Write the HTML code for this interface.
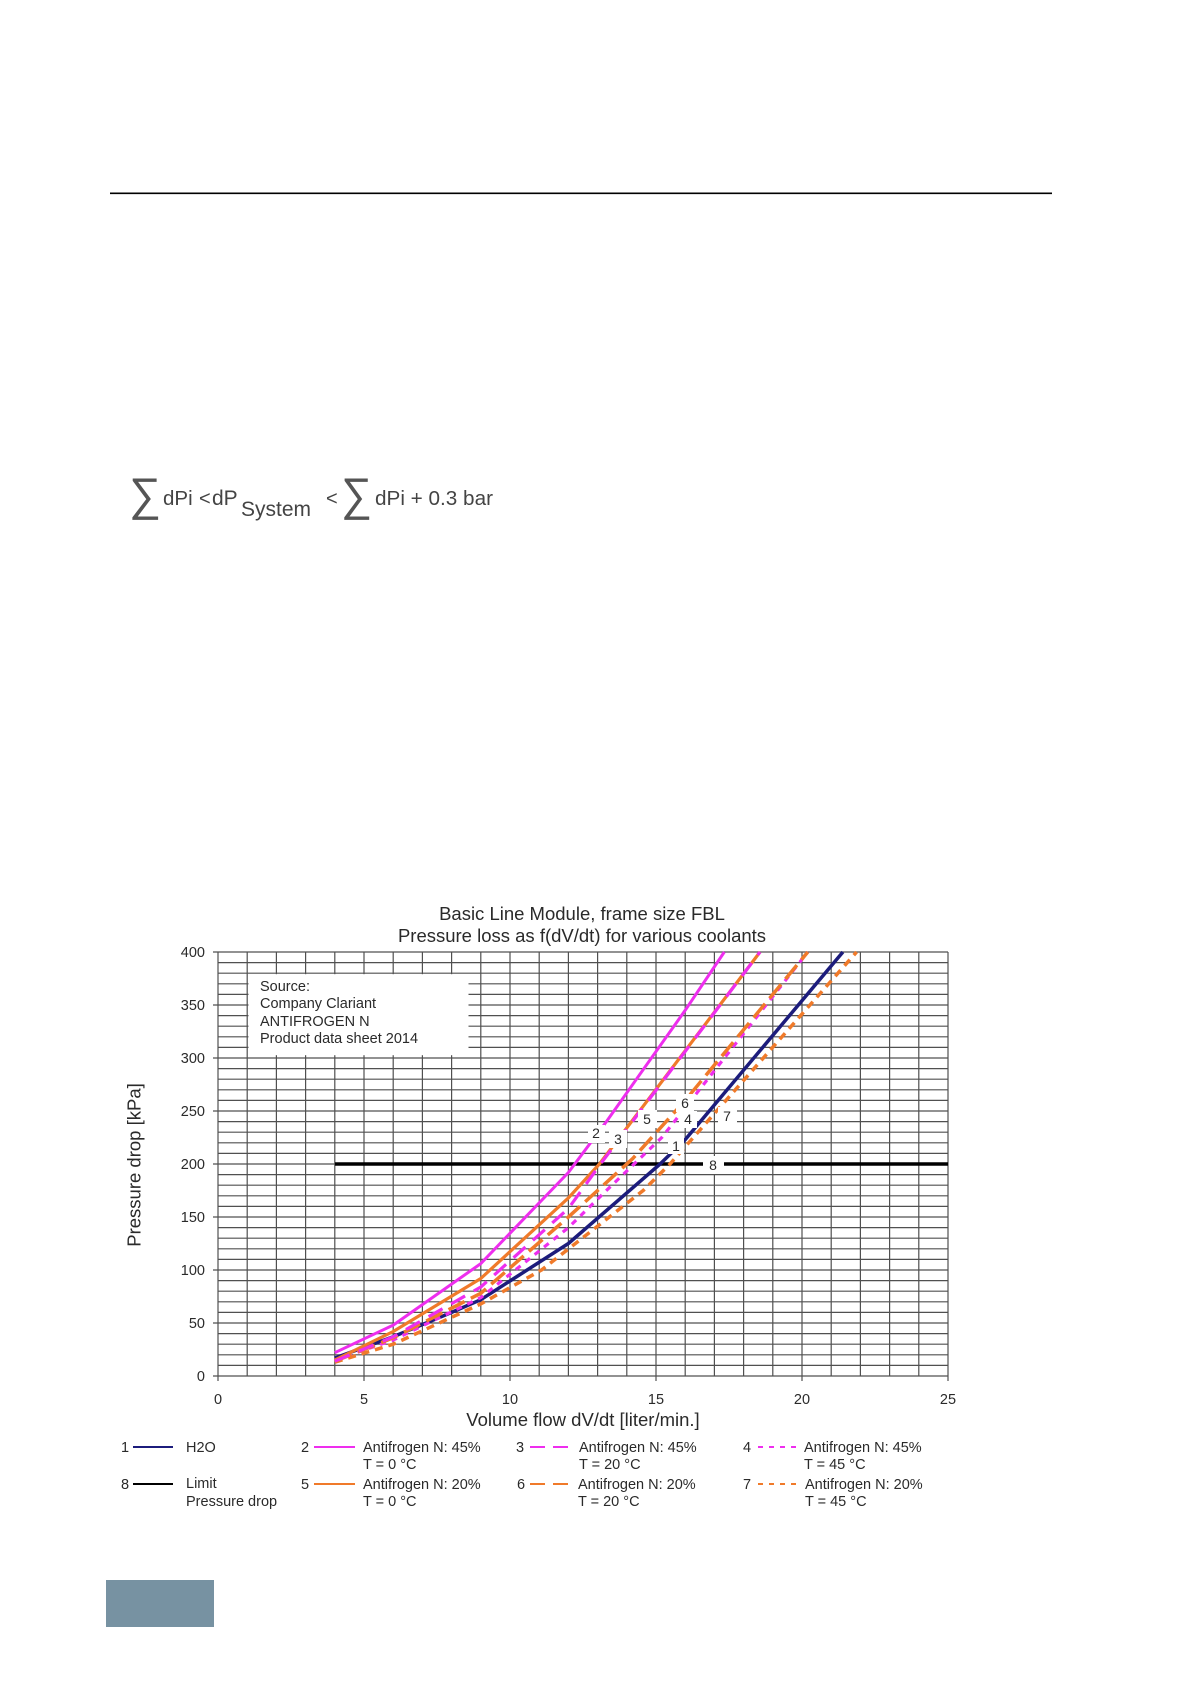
<!DOCTYPE html>
<html>
<head>
<meta charset="utf-8">
<style>
html,body{margin:0;padding:0;background:#fff;}
svg{display:block;}
text{font-family:"Liberation Sans",Arial,sans-serif;fill:#2a2a2a;}
</style>
</head>
<body>
<svg width="1190" height="1684" viewBox="0 0 1190 1684" xmlns="http://www.w3.org/2000/svg">
<rect x="0" y="0" width="1190" height="1684" fill="#fff"/>

<!-- header rule -->
<line x1="110" y1="193.3" x2="1052" y2="193.3" stroke="#000" stroke-width="1.6"/>

<!-- formula -->
<g>
<text x="129" y="510" font-size="46" textLength="32" lengthAdjust="spacingAndGlyphs" style="fill:#555">∑</text>
<text x="163" y="505" font-size="20.5" style="fill:#444">dPi</text>
<text x="199" y="505" font-size="20" style="fill:#444">&lt;</text>
<text x="212" y="505" font-size="21" style="fill:#444">dP</text>
<text x="241" y="516" font-size="21" textLength="70" lengthAdjust="spacingAndGlyphs" style="fill:#444">System</text>
<text x="326" y="505" font-size="20" style="fill:#444">&lt;</text>
<text x="341" y="510" font-size="46" textLength="31" lengthAdjust="spacingAndGlyphs" style="fill:#555">∑</text>
<text x="375" y="505" font-size="20.5" textLength="118" lengthAdjust="spacingAndGlyphs" style="fill:#444">dPi + 0.3 bar</text>
</g>

<!-- chart title -->
<text x="582" y="920" font-size="18.5" text-anchor="middle">Basic Line Module, frame size FBL</text>
<text x="582" y="942" font-size="18.5" text-anchor="middle">Pressure loss as f(dV/dt) for various coolants</text>

<!-- grid -->
<path stroke="#505050" stroke-width="1.2" fill="none" d="
M218 952V1376 M247.2 952V1376 M276.4 952V1376 M305.6 952V1376 M334.8 952V1376 M364 952V1376
M393.2 952V1376 M422.4 952V1376 M451.6 952V1376 M480.8 952V1376 M510 952V1376 M539.2 952V1376
M568.4 952V1376 M597.6 952V1376 M626.8 952V1376 M656 952V1376 M685.2 952V1376 M714.4 952V1376
M743.6 952V1376 M772.8 952V1376 M802 952V1376 M831.2 952V1376 M860.4 952V1376 M889.6 952V1376
M918.8 952V1376 M948 952V1376
M218 1376H948 M218 1365.4H948 M218 1354.8H948 M218 1344.2H948 M218 1333.6H948 M218 1323H948
M218 1312.4H948 M218 1301.8H948 M218 1291.2H948 M218 1280.6H948 M218 1270H948 M218 1259.4H948
M218 1248.8H948 M218 1238.2H948 M218 1227.6H948 M218 1217H948 M218 1206.4H948 M218 1195.8H948
M218 1185.2H948 M218 1174.6H948 M218 1164H948 M218 1153.4H948 M218 1142.8H948 M218 1132.2H948
M218 1121.6H948 M218 1111H948 M218 1100.4H948 M218 1089.8H948 M218 1079.2H948 M218 1068.6H948
M218 1058H948 M218 1047.4H948 M218 1036.8H948 M218 1026.2H948 M218 1015.6H948 M218 1005H948
M218 994.4H948 M218 983.8H948 M218 973.2H948 M218 962.6H948 M218 952H948
"/>
<!-- ticks -->
<path stroke="#505050" stroke-width="1.2" fill="none" d="
M213 952H218 M213 1005H218 M213 1058H218 M213 1111H218 M213 1164H218 M213 1217H218 M213 1270H218 M213 1323H218 M213 1376H218
M218 1376V1381 M364 1376V1381 M510 1376V1381 M656 1376V1381 M802 1376V1381 M948 1376V1381"/>

<!-- source box -->
<rect x="248.5" y="974.2" width="220" height="81" fill="#fff"/>
<g font-size="14.5">
<text x="260" y="991">Source:</text>
<text x="260" y="1008">Company Clariant</text>
<text x="260" y="1026">ANTIFROGEN N</text>
<text x="260" y="1043">Product data sheet 2014</text>
</g>

<!-- y tick labels -->
<g font-size="14.5" text-anchor="end">
<text x="205" y="957">400</text>
<text x="205" y="1010">350</text>
<text x="205" y="1063">300</text>
<text x="205" y="1116">250</text>
<text x="205" y="1169">200</text>
<text x="205" y="1222">150</text>
<text x="205" y="1275">100</text>
<text x="205" y="1328">50</text>
<text x="205" y="1381">0</text>
</g>
<!-- x tick labels -->
<g font-size="14.5" text-anchor="middle">
<text x="218" y="1404">0</text>
<text x="364" y="1404">5</text>
<text x="510" y="1404">10</text>
<text x="656" y="1404">15</text>
<text x="802" y="1404">20</text>
<text x="948" y="1404">25</text>
</g>
<!-- axis titles -->
<text x="583" y="1426" font-size="18.5" text-anchor="middle">Volume flow dV/dt [liter/min.]</text>
<text transform="translate(140.5,1165) rotate(-90)" font-size="18.5" text-anchor="middle">Pressure drop [kPa]</text>

<!-- limit line 8 -->
<line x1="335" y1="1164" x2="948" y2="1164" stroke="#000" stroke-width="3.5"/>

<!-- curves -->
<g fill="none" stroke-linejoin="round">
<!-- 7 orange dotted -->
<polyline stroke="#f07a2a" stroke-width="3.5" stroke-dasharray="8 6" points="334.8,1362.2 393.2,1344.2 480.8,1303.9 541.5,1270 643.2,1190.5 670,1164 856.6,952"/>
<!-- 1 navy -->
<polyline stroke="#1c1c7c" stroke-width="3.5" points="334.8,1358 393.2,1336.8 451.6,1312.4 480.8,1299.7 568.4,1243.5 660.1,1164 685.2,1139.6 842.9,952"/>
<!-- 4 magenta dotted -->
<polyline stroke="#ee2eee" stroke-width="3.2" stroke-dasharray="6 6" points="334.8,1360.1 393.2,1340 480.8,1297.6 568.4,1227.6 606.4,1190.5 661.8,1137.5 807.8,952"/>
<!-- 6 orange dashed -->
<polyline stroke="#f07a2a" stroke-width="3.5" stroke-dasharray="18 7" points="334.8,1361.2 393.2,1337.8 480.8,1293.3 568.4,1217 632.6,1158.7 685.2,1100.4 807.8,952"/>
<!-- 5 orange solid -->
<polyline stroke="#f07a2a" stroke-width="3.2" points="334.8,1360.1 393.2,1331.5 480.8,1278.5 568.4,1197.9 599.4,1164 760,952"/>
<!-- 3 magenta dashed -->
<polyline stroke="#ee2eee" stroke-width="3.2" stroke-dasharray="16 10" points="334.8,1361.2 393.2,1336.8 480.8,1287 568.4,1208.5 600.5,1164 760,952"/>
<!-- 2 magenta solid -->
<polyline stroke="#ee2eee" stroke-width="3" points="334.8,1352.7 393.2,1325.1 480.8,1263.6 568.4,1172.5 606.4,1121.6 685.2,1010.3 724.3,952"/>
</g>

<!-- curve labels -->
<g fill="#fff">
<rect x="588" y="1125" width="17" height="18"/>
<rect x="609" y="1130" width="18" height="18"/>
<rect x="638" y="1110" width="19" height="18"/>
<rect x="676" y="1094" width="18" height="18"/>
<rect x="679" y="1111" width="18" height="17"/>
<rect x="668" y="1137" width="16" height="17"/>
<rect x="718" y="1107" width="19" height="18"/>
<rect x="703" y="1156" width="21" height="18"/>
</g>
<g font-size="14" text-anchor="middle">
<text x="596" y="1138">2</text>
<text x="618" y="1144">3</text>
<text x="647" y="1124">5</text>
<text x="685" y="1108">6</text>
<text x="688" y="1124">4</text>
<text x="676" y="1151">1</text>
<text x="727" y="1121">7</text>
<text x="713" y="1170">8</text>
</g>

<!-- legend -->
<g font-size="14.5">
<text x="121" y="1452">1</text>
<text x="121" y="1489">8</text>
<text x="186" y="1452">H2O</text>
<text x="186" y="1488">Limit</text>
<text x="186" y="1506">Pressure drop</text>

<text x="301" y="1452">2</text>
<text x="301" y="1489">5</text>
<text x="363" y="1452">Antifrogen N: 45%</text>
<text x="363" y="1469">T = 0 °C</text>
<text x="363" y="1489">Antifrogen N: 20%</text>
<text x="363" y="1506">T = 0 °C</text>

<text x="516" y="1452">3</text>
<text x="517" y="1489">6</text>
<text x="579" y="1452">Antifrogen N: 45%</text>
<text x="579" y="1469">T = 20 °C</text>
<text x="578" y="1489">Antifrogen N: 20%</text>
<text x="578" y="1506">T = 20 °C</text>

<text x="743" y="1452">4</text>
<text x="743" y="1489">7</text>
<text x="804" y="1452">Antifrogen N: 45%</text>
<text x="804" y="1469">T = 45 °C</text>
<text x="805" y="1489">Antifrogen N: 20%</text>
<text x="805" y="1506">T = 45 °C</text>
</g>
<g fill="none" stroke-width="2">
<line x1="133" y1="1447" x2="173" y2="1447" stroke="#1c1c7c"/>
<line x1="133" y1="1484" x2="173" y2="1484" stroke="#000"/>
<line x1="314" y1="1447" x2="355" y2="1447" stroke="#ee2eee"/>
<line x1="314" y1="1484" x2="355" y2="1484" stroke="#f07a2a"/>
<line x1="530" y1="1447" x2="568" y2="1447" stroke="#ee2eee" stroke-dasharray="15 8"/>
<line x1="530" y1="1484" x2="568" y2="1484" stroke="#f07a2a" stroke-dasharray="15 8"/>
<line x1="758" y1="1447" x2="797" y2="1447" stroke="#ee2eee" stroke-dasharray="5 6"/>
<line x1="758" y1="1484" x2="797" y2="1484" stroke="#f07a2a" stroke-dasharray="5 6"/>
</g>

<!-- footer block -->
<rect x="106" y="1580" width="108" height="47" fill="#7792a2"/>
</svg>
</body>
</html>
